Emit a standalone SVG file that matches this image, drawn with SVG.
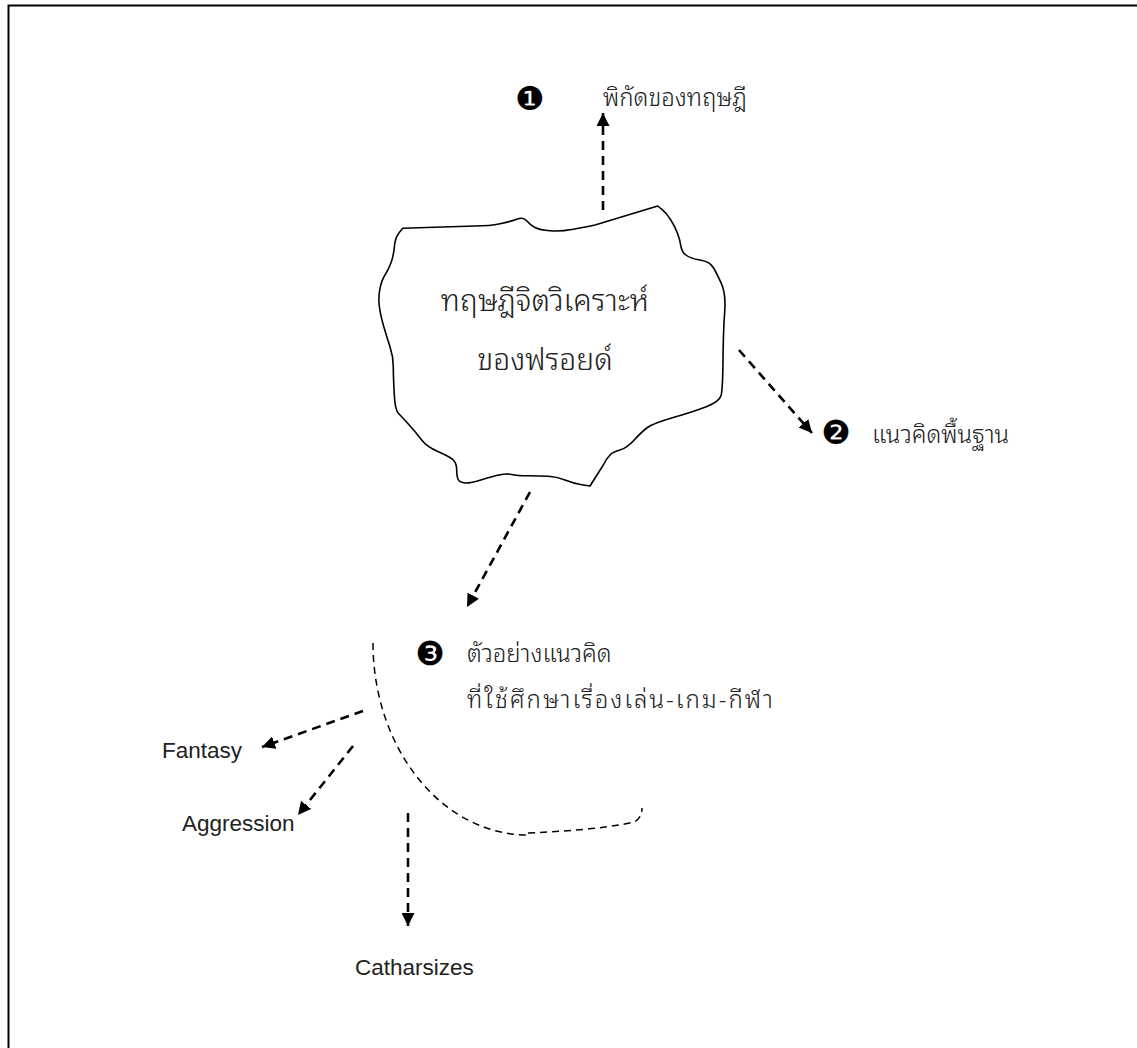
<svg xmlns="http://www.w3.org/2000/svg" width="1137" height="1048" viewBox="0 0 1137 1048">
<style>
.frame{fill:none;stroke:#000;stroke-width:2}
.cloud{fill:#fff;stroke:#000;stroke-width:1.6;stroke-linejoin:round}
.arr{fill:none;stroke:#000;stroke-width:2.6;stroke-dasharray:9,6}
.thin{fill:none;stroke:#000;stroke-width:1.5;stroke-dasharray:7,5}
.th{font-family:"Umpush","Laksaman","Waree","Noto Sans Thai Looped","Garuda","Loma",sans-serif;font-size:24px;font-weight:300;fill:#222}
.big{font-size:30px}
.wide{letter-spacing:2px}
.en{font-family:"Liberation Sans",Arial,sans-serif;font-size:22.5px;fill:#222}
.num{font-family:"DejaVu Sans",sans-serif;font-size:33px;fill:#000}
</style>
<defs>
<marker id="ah" viewBox="0 0 10 10" refX="10" refY="5" markerWidth="5" markerHeight="5" markerUnits="strokeWidth" orient="auto">
<path d="M0,0 L10,5 L0,10 Z" fill="#000"/>
</marker>
</defs>
<rect width="1137" height="1048" fill="#fff"/>
<path class="frame" d="M8.5,1048 L8.5,5.5 L1137,5.5"/>
<g id="connectors">
<path class="arr" marker-end="url(#ah)" d="M603,210 L603,113"/>
<path class="arr" marker-end="url(#ah)" d="M739,350 L812,433"/>
<path class="arr" marker-end="url(#ah)" d="M530,492 L467,607"/>
<path class="arr" marker-end="url(#ah)" d="M363,711 L262,747"/>
<path class="arr" marker-end="url(#ah)" d="M353,746 L298,815"/>
<path class="arr" marker-end="url(#ah)" d="M408,813 L408,926"/>
<path class="thin" d="M373,643 A155,192 0 0 0 528,835"/>
<path class="thin" d="M528,833 Q600,830 634,822 Q642,818 642,808"/>
</g>
<g id="cloud">
<path class="cloud" d="M402.7,228.3 L475,226 Q490,226 500,223.8 Q510,221.7 516.7,219.2 Q523.3,216.7 526.7,220.8 Q530,225 535,227.5 Q540,230 550,230.8 Q560,231.7 573.3,229.2 Q586.7,226.7 595,225 L657.7,206 L662.2,209.7 Q666.7,213.3 670.8,220 Q675,226.7 677.5,233.3 Q680,240 680.8,245.8 Q681.7,251.7 685.8,255 Q690,258.3 700,260 Q710,261.7 713.3,267.5 Q716.7,273.3 721.3,283.3 Q726,293.3 724.7,311.7 Q723.3,330 723,360 Q722.7,390 721,395.8 Q719.3,401.7 706.3,406.7 Q693.3,411.7 673.3,417.5 Q653.3,423.3 647.5,427.5 Q641.7,431.7 634.2,440 Q626.7,448.3 620,450 Q613.3,451.7 610,455 Q606.7,458.3 603.3,465 L590,486 L581.7,484.7 Q573.3,483.3 565,480 Q556.7,476.7 548.3,476.3 Q540,476 528.3,475.8 Q516.7,475.7 511.7,474.5 Q506.7,473.3 500,474.7 Q493.3,476 481.7,479.7 Q470,483.3 465,483 Q460,482.7 458.3,479.7 Q456.7,476.7 456.7,470 Q456.7,463.3 453.3,460 Q450,456.7 438.3,451.7 Q426.7,446.7 421.7,440 Q416.7,433.3 409.2,425 Q401.7,416.7 398.3,413.3 Q395,410 394.2,393.3 Q393.3,376.7 393.3,366.7 Q393.3,356.7 390,346.7 Q386.7,336.7 383.3,325 Q380,313.3 379.2,305 Q378.3,296.7 380,288.3 Q381.7,280 385,275 Q388.3,270 390.8,263.3 Q393.3,256.7 394.2,248.3 Q395,240 396.7,236.7 Q398.3,233.3 402.7,228.3 Z"/>
<text class="th big" x="545" y="311" text-anchor="middle">ทฤษฎีจิตวิเคราะห์</text>
<text class="th big" x="545" y="370" text-anchor="middle">ของฟรอยด์</text>
</g>
<g id="n1">
<text class="num" x="530" y="110" text-anchor="middle">❶</text>
<text class="th" x="603" y="106">พิกัดของทฤษฎี</text>
</g>
<g id="n2">
<text class="num" x="836" y="444" text-anchor="middle">❷</text>
<text class="th" x="872" y="443">แนวคิดพื้นฐาน</text>
</g>
<g id="n3">
<text class="num" x="430" y="665" text-anchor="middle">❸</text>
<text class="th" x="467" y="662">ตัวอย่างแนวคิด</text>
<text class="th wide" x="467" y="708">ที่ใช้ศึกษาเรื่องเล่น-เกม-กีฬา</text>
</g>
<g id="fantasy"><text class="en" x="162" y="758">Fantasy</text></g>
<g id="aggression"><text class="en" x="182" y="831">Aggression</text></g>
<g id="catharsizes"><text class="en" x="355" y="975">Catharsizes</text></g>
</svg>
